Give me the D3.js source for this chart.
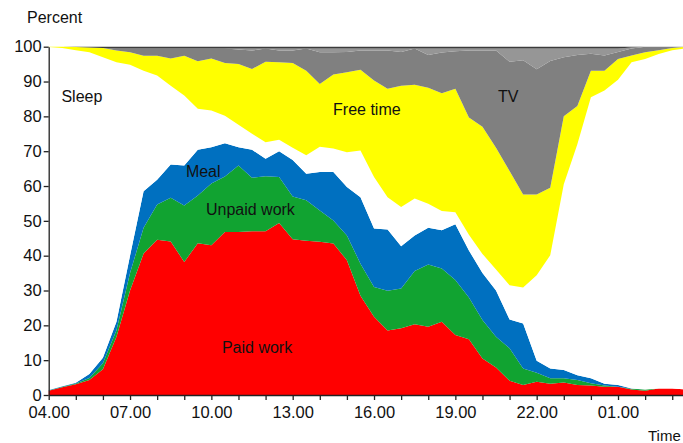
<!DOCTYPE html>
<html>
<head>
<meta charset="utf-8">
<script src="https://cdn.jsdelivr.net/npm/d3@7"></script>
<style>
  body { margin: 0; background: white; }
  svg { display: block; font-family: "Liberation Sans", Arial, sans-serif; }
</style>
</head>
<body>
<svg id="chart"></svg>
<script>
// half-hour time slots, 04.00 to 03.30 next day
const times = [
    "04.00", "04.30", "05.00", "05.30", "06.00", "06.30", "07.00", "07.30",
    "08.00", "08.30", "09.00", "09.30", "10.00", "10.30", "11.00", "11.30",
    "12.00", "12.30", "13.00", "13.30", "14.00", "14.30", "15.00", "15.30",
    "16.00", "16.30", "17.00", "17.30", "18.00", "18.30", "19.00", "19.30",
    "20.00", "20.30", "21.00", "21.30", "22.00", "22.30", "23.00", "23.30",
    "00.00", "00.30", "01.00", "01.30", "02.00", "02.30", "03.00", "03.30"
];

// percent of people per activity (stacked from bottom)
const paidWork = [1.2, 2.2, 3.1, 4.3, 7.4, 16.7, 30, 40.6, 44.6, 44.1, 38.2, 43.6, 43, 46.8, 46.8, 47,
    47, 49.4, 44.7, 44.3, 44, 43.5, 38.7, 28.5, 22.5, 18.5, 19.2, 20.3, 19.6, 21, 17.2, 16,
    10.5, 7.9, 4.1, 2.9, 3.8, 3.2, 3.6, 2.9, 2.7, 2.4, 2.4, 1.6, 1.2, 1.9, 1.9, 1.6];
const unpaidWork = [0.1, 0.2, 0.2, 0.6, 1.7, 1.9, 5, 7.4, 10.1, 12.5, 16.2, 13.7, 17.7, 15.9, 19.1, 15.4,
    15.8, 13.2, 12.3, 11.6, 9, 6.6, 7.1, 9.2, 8.5, 11.4, 11.4, 15.3, 17.9, 15.3, 15.8, 12,
    11, 8.8, 9.3, 4.7, 2.6, 1.6, 1.2, 1.4, 0.7, 0.3, 0, 0.2, 0.4, 0, 0, 0];
const meal = [0.1, 0.1, 0.2, 1.1, 1.6, 2.4, 5, 10.5, 7.1, 9.6, 11.5, 13.1, 10.4, 9.6, 5.2, 8,
    5, 7.4, 10.5, 7.6, 11, 13.9, 13.9, 19.1, 16.8, 17.6, 12.1, 10.2, 10.5, 11, 16, 13.5,
    13.5, 13.3, 8.3, 12.9, 3.4, 2.8, 2.4, 1.4, 1.4, 0.5, 0.5, 0.1, 0, 0, 0, 0];
const sleep = [98.5, 97.1, 95.5, 92.4, 86.3, 74.5, 54.8, 34.6, 29.9, 22.6, 20.1, 11.8, 10.6, 7.9, 6.5, 4.6,
    4.8, 3.3, 3.5, 5.3, 7.3, 6.8, 10, 13.4, 14.8, 9.3, 11.3, 10.6, 6.9, 5.5, 3.5, 4.5,
    5.5, 6, 9.8, 10.4, 24.6, 32.5, 53.3, 66.3, 80.7, 84.2, 87.6, 93.6, 94.9, 96, 97.1, 97.9];
const freeTime = [0.1, 0.4, 0.9, 1.4, 2.6, 3.4, 3.6, 4.3, 5.7, 7.8, 11.4, 13.6, 14.9, 15.1, 17.4, 18.6,
    23.1, 22.2, 24.3, 24.3, 18, 21.2, 23, 23.2, 27.7, 31.1, 34.8, 32.7, 33.3, 33.8, 35.4, 33.7,
    36.5, 35, 32.8, 26.7, 23.2, 19.4, 19.5, 11, 7.6, 5.7, 6, 2, 1.9, 1.1, 0.6, 0.5];
const tv = [0, 0, 0, 0, 0, 0.6, 1.1, 2.1, 2.1, 2.9, 2.1, 3.7, 2.9, 4.2, 4.2, 5.3,
    3.8, 3.4, 3.6, 6.4, 9.1, 6.4, 5.8, 5.5, 8.6, 11, 9.7, 10.4, 9.4, 11.7, 10.8, 19.2,
    21.9, 27.9, 31.4, 38.5, 35.9, 36.4, 17, 14.6, 4.9, 4.4, 2, 2, 1.6, 1, 0.4, 0];
const other = [0, 0, 0, 0, 0, 0, 0, 0, 0, 0, 0, 0, 0, 0, 0.3, 0.6,
    0, 0.6, 0.6, 0, 1.1, 1.1, 1, 0.6, 0.6, 0.6, 1, 0, 1.9, 1.2, 0.8, 0.6,
    0.6, 0.6, 3.8, 3.4, 6, 3.6, 2.5, 1.9, 1.5, 2, 1, 0.3, 0, 0, 0, 0];
const unknown = [0, 0, 0.1, 0.2, 0.4, 0.5, 0.5, 0.5, 0.5, 0.5, 0.5, 0.5, 0.5, 0.5, 0.5, 0.5,
    0.5, 0.5, 0.5, 0.5, 0.5, 0.5, 0.5, 0.5, 0.5, 0.5, 0.5, 0.5, 0.5, 0.5, 0.5, 0.5,
    0.5, 0.5, 0.5, 0.5, 0.5, 0.5, 0.5, 0.5, 0.5, 0.5, 0.5, 0.2, 0, 0, 0, 0];

const xTickLabels = ["04.00", "07.00", "10.00", "13.00", "16.00", "19.00", "22.00", "01.00"];
const yTicks = [0, 10, 20, 30, 40, 50, 60, 70, 80, 90, 100];

const keys = ["Paid work", "Unpaid work", "Meal", "Sleep", "Free time", "TV", "Other", "Unknown"];
const colors = ["#ff0000", "#11a331", "#0070c0", "#ffffff", "#ffff00", "#808080", "#969696", "#3c3c3c"];

// "04.30" -> 4.5, after midnight continue past 24
function toHour(t) {
    const [h, m] = t.split(".").map(Number);
    const v = h + m / 60;
    return v < 4 ? v + 24 : v;
}

const rows = times.map((t, i) => ({
    hour: toHour(t),
    "Paid work": paidWork[i],
    "Unpaid work": unpaidWork[i],
    "Meal": meal[i],
    "Sleep": sleep[i],
    "Free time": freeTime[i],
    "TV": tv[i],
    "Other": other[i],
    "Unknown": unknown[i]
}));

const width = 683;
const height = 443;

const svg = d3.select("#chart")
    .attr("width", width)
    .attr("height", height);

// 04.00 at left axis, 27.11 px per hour
const xScale = d3.scaleLinear()
    .domain([4, 28])
    .range([48.7, 48.7 + 24 * 27.11]);

const yScale = d3.scaleLinear()
    .domain([0, 100])
    .range([395, 46.7]);

const series = d3.stack().keys(keys)(rows);

const area = d3.area()
    .x(d => xScale(d.data.hour))
    .y0(d => yScale(d[0]))
    .y1(d => yScale(d[1]));

svg.append("g")
    .selectAll("path")
    .data(series)
    .enter()
    .append("path")
    .attr("d", area)
    .attr("fill", (d, i) => colors[i]);

// x axis, a tick every hour, label every 3 hours
const hourTicks = d3.range(4, 28, 1);
const xAxis = d3.axisBottom(xScale)
    .tickValues(hourTicks)
    .tickSize(5)
    .tickSizeOuter(0)
    .tickFormat(h => {
        const label = String(h % 24).padStart(2, "0") + ".00";
        return xTickLabels.includes(label) && (h - 4) % 3 === 0 ? label : "";
    });

const xAxisGroup = svg.append("g")
    .attr("transform", `translate(0,${yScale(0)})`);
xAxis(xAxisGroup);
xAxisGroup.select(".domain").attr("stroke", "#222").attr("stroke-width", 1.3);
xAxisGroup.selectAll(".tick line").attr("stroke", "#222").attr("stroke-width", 1.3);
xAxisGroup.selectAll(".tick text")
    .attr("y", 11)
    .attr("dy", "0.71em")
    .style("font-size", "16.5px")
    .style("fill", "#111");

// y axis
const yAxis = d3.axisLeft(yScale)
    .tickValues(yTicks)
    .tickSize(5)
    .tickSizeOuter(0);

const yAxisGroup = svg.append("g")
    .attr("transform", `translate(${xScale(4)},0)`);
yAxis(yAxisGroup);
yAxisGroup.select(".domain").attr("stroke", "#222").attr("stroke-width", 1.3);
yAxisGroup.selectAll(".tick line").attr("stroke", "#222").attr("stroke-width", 1.3);
yAxisGroup.selectAll(".tick text")
    .attr("x", -7)
    .style("font-size", "16.5px")
    .style("fill", "#111");

// axis titles
svg.append("text")
    .attr("x", 27)
    .attr("y", 23)
    .style("font-size", "16px")
    .style("fill", "#111")
    .text("Percent");

svg.append("text")
    .attr("x", 648)
    .attr("y", 441)
    .style("font-size", "15px")
    .style("fill", "#111")
    .text("Time");

// activity labels inside the areas
const areaLabels = [
    { text: "Sleep", hour: 4.47, value: 84 },
    { text: "Free time", hour: 14.49, value: 80.4 },
    { text: "TV", hour: 20.57, value: 84.2 },
    { text: "Meal", hour: 9.06, value: 62.5 },
    { text: "Unpaid work", hour: 9.8, value: 51.7 },
    { text: "Paid work", hour: 10.39, value: 12 }
];

svg.selectAll("text.area-label")
    .data(areaLabels)
    .enter()
    .append("text")
    .attr("class", "area-label")
    .attr("x", d => xScale(d.hour))
    .attr("y", d => yScale(d.value))
    .style("font-size", "16px")
    .style("fill", "#111")
    .text(d => d.text);
</script>
</body>
</html>
